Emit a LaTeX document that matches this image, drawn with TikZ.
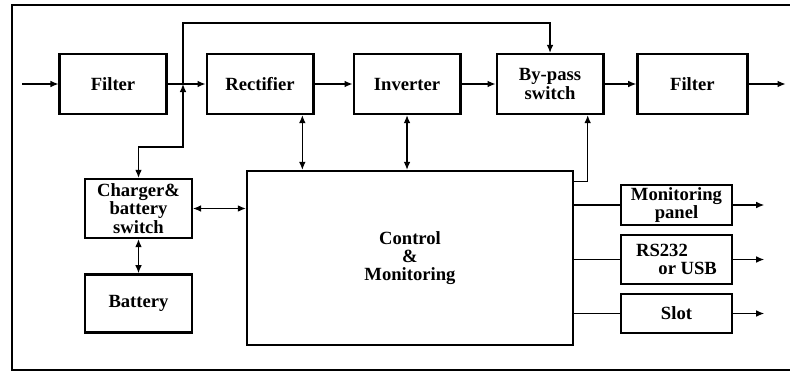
\documentclass[tikz,border=0pt]{standalone}
\usepackage{fontspec}
\setmainfont{Liberation Serif}
\usetikzlibrary{arrows.meta,positioning}

\begin{document}
\begin{tikzpicture}[node distance=1.14cm, font=\fontsize{15.9}{15.5}\selectfont\bfseries]
\tikzstyle{block} = [rectangle, draw, line width=2pt, minimum width=3.2cm, minimum height=1.8cm, align=center, inner sep=2pt]
\tikzstyle{small} = [block, minimum width=3.33cm, minimum height=1.2cm]
\tikzstyle{arrow} = [-{Latex[length=2.4mm,width=2mm]}, line width=1pt]
\tikzstyle{dbl} = [{Latex[length=2.4mm,width=2mm]}-{Latex[length=2.4mm,width=2mm]}, line width=1pt]
\tikzstyle{line} = [line width=1pt]
\useasboundingbox (0,0) rectangle (23.7,11.19);
% frame
\draw[line width=1.7pt] (23.7,11.04) -- (0.36,11.04) -- (0.36,0.09) -- (23.7,0.09);
% main power path
\node[block] (filterin) at (3.39,8.67) {Filter};
\node[block, right=of filterin] (rect) {Rectifier};
\node[block, right=of rect] (inv) {Inverter};
\node[block, right=1.02cm of inv] (bypass) {By-pass\\switch};
\node[block, right=0.95cm of bypass, minimum width=3.3cm] (filterout) {Filter};
% battery side
\node[block, minimum height=1.77cm] (charger) at (4.155,4.935) {Charger\&\\battery\\switch};
\node[block, below=1.02cm of charger, minimum height=1.74cm] (battery) {Battery};
% control
\node[block, minimum width=9.78cm, minimum height=5.22cm] (ctrl) at (12.3,3.45) {Control\\\&\\Monitoring};
% interfaces
\node[small] (panel) at (20.295,5.04) {Monitoring\\panel};
\node[small, minimum height=1.47cm, align=left] (rs) at (20.295,3.405) {RS232\\\hspace{1.2em}or USB};
\node[small, minimum height=1.17cm] (slot) at (20.295,1.785) {Slot};

\coordinate (in) at (0.66,8.67);
\coordinate (jn) at (5.49,8.67);
\coordinate (top) at (5.49,10.5);
\coordinate (kink) at (5.49,6.78);

\draw[arrow] (in) -- (filterin);
\draw[arrow] (filterin) -- (rect);
\draw[arrow] (rect) -- (inv);
\draw[arrow] (inv) -- (bypass);
\draw[arrow] (bypass) -- (filterout);
\draw[arrow] (filterout.east) -- ++(1.11,0);
\draw[arrow] (jn) -- (top) -| (bypass.north);
\draw[dbl] (charger.north) |- (kink) -- (jn);
\draw[dbl] (charger) -- (battery);
\draw[dbl] (charger.east) -- (charger.east -| ctrl.west);
\draw[dbl] ([xshift=1.27cm]rect.south) -- ([xshift=1.27cm]rect.south |- ctrl.north);
\draw[dbl] (inv.south) -- (inv.south |- ctrl.north);
\draw[arrow] ([yshift=-0.36cm]ctrl.north east) -| ([xshift=1.13cm]bypass.south);
\draw[line] (panel.west -| ctrl.east) -- (panel.west);
\draw[line] (rs.west -| ctrl.east) -- (rs.west);
\draw[line] (slot.west -| ctrl.east) -- (slot.west);
\draw[arrow] (panel.east) -- ++(0.93,0);
\draw[arrow] (rs.east) -- ++(0.93,0);
\draw[arrow] (slot.east) -- ++(0.93,0);
\end{tikzpicture}
\end{document}
